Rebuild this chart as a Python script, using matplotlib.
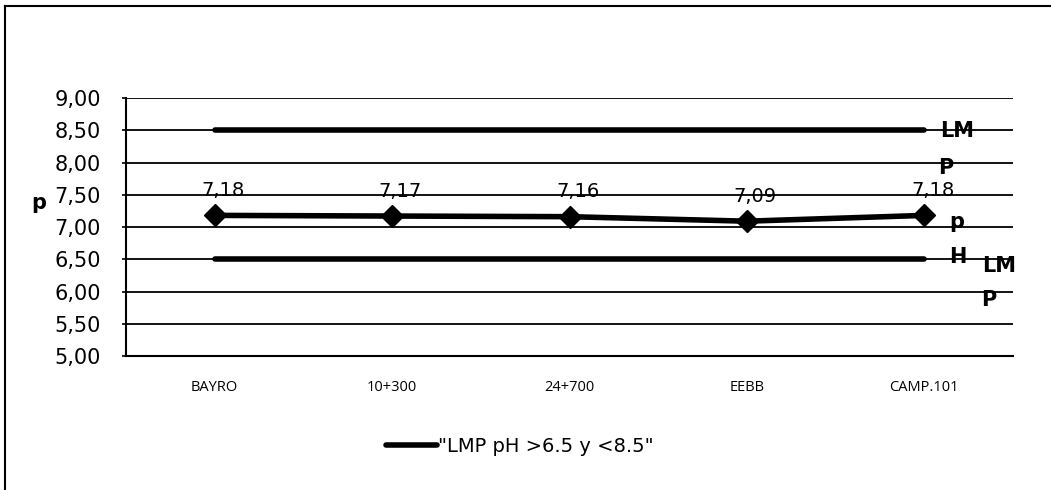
import matplotlib
matplotlib.use("Agg")
import matplotlib.pyplot as plt
from matplotlib.lines import Line2D
from matplotlib.ticker import FuncFormatter, MultipleLocator

# Sampling points and measured pH
stations = ["BAYRO", "10+300", "24+700", "EEBB", "CAMP.101"]
ph_values = [7.18, 7.17, 7.16, 7.09, 7.18]

# Permissible limits (LMP) for pH
lmp_lower = 6.5
lmp_upper = 8.5
legend_label = '"LMP pH >6.5 y <8.5"'

y_min, y_max, y_step = 5.0, 9.0, 0.5

plt.rcParams["font.family"] = ["DejaVu Sans"]

fig = plt.figure(figsize=(10.51, 4.90), dpi=100)
ax = fig.add_axes([126 / 1051, 1 - 356 / 490, (1013 - 126) / 1051, (356 - 98) / 490])

x = list(range(len(stations)))

# Limit lines
ax.plot(x, [lmp_upper] * len(x), color="black", lw=4, solid_capstyle="round",
        label=legend_label, zorder=3)
ax.plot(x, [lmp_lower] * len(x), color="black", lw=4, solid_capstyle="round", zorder=3)

# Measured pH series
ax.plot(x, ph_values, color="black", lw=4, marker="D", markersize=11, zorder=4)
for xi, v in zip(x, ph_values):
    ax.annotate(f"{v:.2f}".replace(".", ","), (xi, v), xytext=(6, 18),
                textcoords="offset points", ha="center", va="center",
                fontsize=14, color="black", zorder=5)

ax.set_xlim(-0.5, len(stations) - 0.5)
ax.set_ylim(y_min, y_max)
ax.yaxis.set_major_locator(MultipleLocator(y_step))
ax.yaxis.set_major_formatter(FuncFormatter(lambda v, p: f"{v:.2f}".replace(".", ",")))
ax.set_xticks(x)
ax.set_xticklabels(stations, fontsize=10.5, family=["Open Sans", "DejaVu Sans"])
ax.tick_params(axis="x", length=0, pad=17)
ax.tick_params(axis="y", length=3, width=1.2, labelsize=15, pad=15)

ax.grid(axis="y", color="black", lw=1.3)
ax.set_axisbelow(True)
for side in ("top", "right"):
    ax.spines[side].set_visible(False)
for side in ("left", "bottom"):
    ax.spines[side].set_linewidth(1.5)

# Series name fragments at the right end of the lines
bold = dict(fontsize=15, fontweight="bold", color="black", ha="center", va="center")
fig.text(957 / 1051, 1 - 131 / 490, "LM", **bold)
fig.text(946 / 1051, 1 - 168 / 490, "P", **bold)
fig.text(957 / 1051, 1 - 222 / 490, "p", **bold)
fig.text(958 / 1051, 1 - 257 / 490, "H", **bold)
fig.text(999 / 1051, 1 - 266 / 490, "LM", **bold)
fig.text(989 / 1051, 1 - 300 / 490, "P", **bold)

# Axis title
fig.text(39 / 1051, 1 - 203 / 490, "p", **bold)

# Legend
handles, labels = ax.get_legend_handles_labels()
fig.legend(handles, labels, loc="center", bbox_to_anchor=(520 / 1051, 1 - 446 / 490),
           frameon=False, fontsize=14, handlelength=2.6, handletextpad=0.05)

# Outer frame
fig.add_artist(Line2D([5 / 1051, 5 / 1051], [0, 1 - 6 / 490], color="black", lw=1.5))
fig.add_artist(Line2D([5 / 1051, 1], [1 - 6 / 490, 1 - 6 / 490], color="black", lw=1.5))

fig.savefig("out.png", dpi=100, facecolor="white")
